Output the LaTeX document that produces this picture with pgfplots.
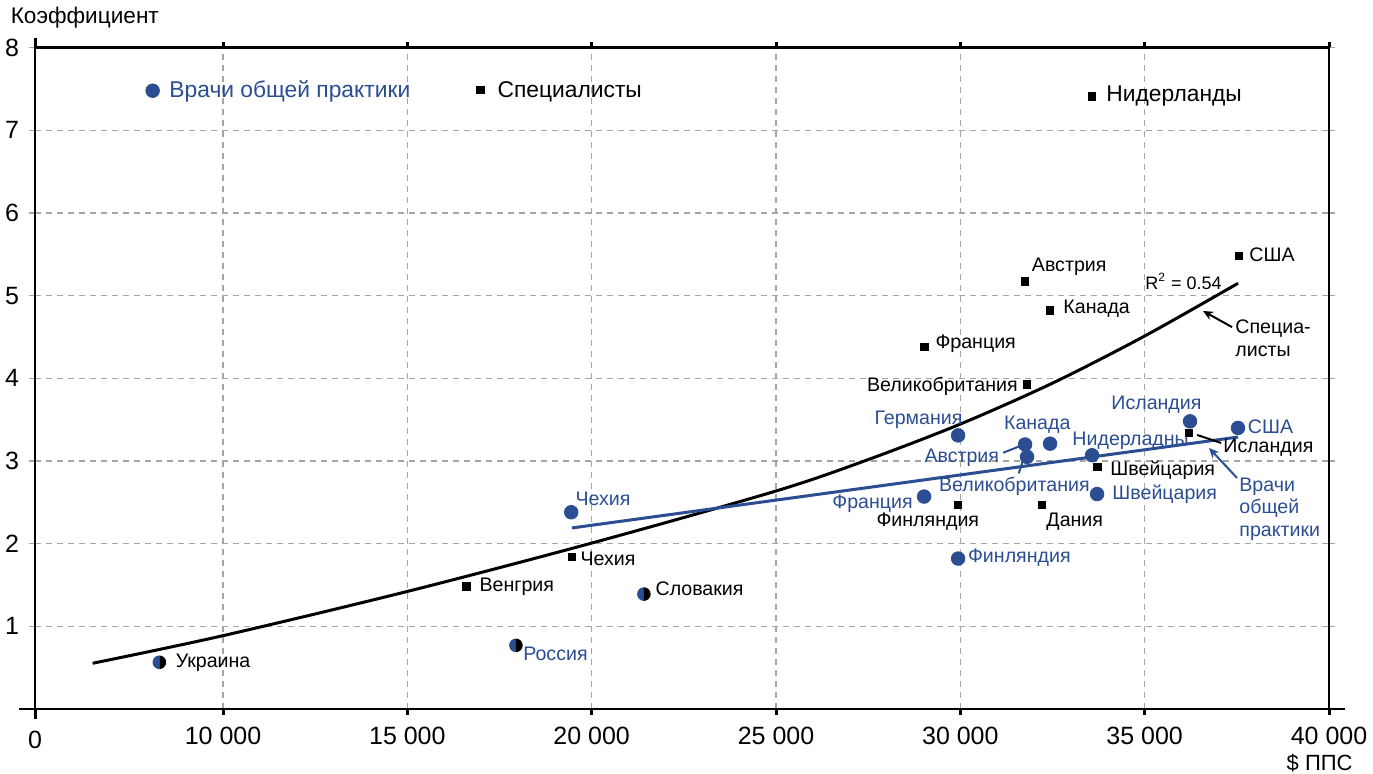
\documentclass[border=0pt]{standalone}
\usepackage{fontspec}
\setmainfont{Liberation Sans}
\usepackage{pgfplots}
\pgfplotsset{compat=1.18}
\usetikzlibrary{arrows.meta}
\definecolor{gpblue}{RGB}{43,77,145}
\definecolor{gridgray}{RGB}{165,165,165}

\pgfdeclareplotmark{halfc}{%
  \pgfpathmoveto{\pgfqpoint{0pt}{\pgfplotmarksize}}%
  \pgfpatharc{90}{270}{\pgfplotmarksize}%
  \pgfpathclose
  \pgfsetfillcolor{gpblue}\pgfusepath{fill}%
  \pgfpathmoveto{\pgfqpoint{0pt}{-\pgfplotmarksize}}%
  \pgfpatharc{-90}{90}{\pgfplotmarksize}%
  \pgfpathclose
  \pgfsetfillcolor{black}\pgfusepath{fill}%
}

\tikzset{
  lblk/.style={font=\fontsize{9.8}{11.5}\selectfont, text=black, inner sep=0pt, anchor=mid west},
  lblu/.style={font=\fontsize{9.8}{11.5}\selectfont, text=gpblue, inner sep=0pt, anchor=mid west},
  lbig/.style={font=\fontsize{11.4}{13}\selectfont, inner sep=0pt, anchor=mid west},
}

\begin{document}
\begin{tikzpicture}
\path[use as bounding box] (-17.5pt,-32.5pt) rectangle (669pt,354.5pt);
\begin{axis}[
  at={(0,0)}, anchor=south west,
  scale only axis, width=647pt, height=330.65pt,
  xmin=4900, xmax=40000, ymin=0, ymax=8,
  clip=false,
  scaled x ticks=false, scaled y ticks=false,
  axis line style={line width=1.3pt, black},
  xtick={10000,15000,20000,25000,30000,35000,40000},
  xticklabels={10 000,15 000,20 000,25 000,30 000,35 000,40 000},
  extra x ticks={4900}, extra x tick labels={0},
  extra x tick style={grid=none, major tick length=5pt},
  ytick={1,2,3,4,5,6,7,8},
  yticklabels={1,2,3,4,5,6,7,8},
  extra y ticks={0}, extra y tick labels={},
  extra y tick style={grid=none, major tick length=8pt, ytick style={draw=black, line width=1.3pt}},
  grid=major,
  major grid style={gridgray, dash pattern=on 3pt off 2.5pt, line width=0.65pt},
  tick label style={font=\fontsize{12.5}{14}\selectfont},
  xticklabel style={yshift=-2.5pt},
  yticklabel style={xshift=-1.5pt},
  tick align=outside,
  major tick length=3pt,
  xtick style={black, line width=1.5pt},
  ytick style={gridgray, line width=0.65pt},
]
% trend lines
\addplot[black, line width=1.5pt, smooth] coordinates {
  (6464,0.553) (10000,0.887) (15000,1.422) (20000,2.007) (25000,2.637)
  (27500,3.017) (30000,3.447) (32500,3.942) (35000,4.512) (37532,5.15)};
\addplot[gpblue, line width=1.5pt] coordinates {(19464,2.19) (37532,3.29)};

% specialists
\addplot[only marks, mark=square*, mark size=1.9pt, black] coordinates {
  (33565,7.41) (37559,5.48) (31756,5.17) (32434,4.82) (29017,4.38)
  (31810,3.93) (36203,3.34) (33722,2.93) (29939,2.47) (32217,2.47)
  (19464,1.84) (16598,1.48) (16977,7.49)};
% general practitioners
\addplot[only marks, mark=*, mark size=3.4pt, gpblue] coordinates {
  (36230,3.48) (37532,3.40) (29939,3.31) (31756,3.20) (31810,3.05)
  (32434,3.21) (33573,3.07) (33709,2.60) (29017,2.57) (29939,1.82)
  (19445,2.38) (8091,7.48)};
% both
\addplot[only marks, mark=halfc, mark size=3.4pt] coordinates {
  (21416,1.39) (17945,0.77) (8273,0.565)};

% legend-like texts
\node[lbig, text=gpblue] at (axis cs:8536,7.46) {Врачи общей практики};
\node[lbig, text=black] at (axis cs:17438,7.46) {Специалисты};
\node[lbig, text=black] at (axis cs:33953,7.41) {Нидерланды};

% black labels
\node[lblk] at (axis cs:37830,5.48) {США};
\node[lblk] at (axis cs:31932,5.36) {Австрия};
\node[lblk] at (axis cs:32787,4.85) {Канада};
\node[lblk] at (axis cs:29316,4.42) {Франция};
\node[lblk, anchor=mid east] at (axis cs:31566,3.91) {Великобритания};
\node[lblk] at (axis cs:37125,3.17) {Исландия};
\node[lblk] at (axis cs:34061,2.89) {Швейцария};
\node[lblk] at (axis cs:27716,2.27) {Финляндия};
\node[lblk] at (axis cs:32326,2.27) {Дания};
\node[lblk] at (axis cs:19689,1.80) {Чехия};
\node[lblk] at (axis cs:16950,1.49) {Венгрия};
\node[lblk] at (axis cs:21723,1.44) {Словакия};
\node[lblk] at (axis cs:8707,0.57) {Украина};

% blue labels
\node[lblu] at (axis cs:34088,3.69) {Исландия};
\node[lblu] at (axis cs:37790,3.40) {США};
\node[lblu] at (axis cs:27662,3.51) {Германия};
\node[lblu] at (axis cs:31176,3.44) {Канада};
\node[lblu] at (axis cs:29017,3.05) {Австрия};
\node[lblu] at (axis cs:33031,3.25) {Нидерладны};
\node[lblu] at (axis cs:29413,2.70) {Великобритания};
\node[lblu] at (axis cs:34115,2.60) {Швейцария};
\node[lblu, anchor=mid east] at (axis cs:28719,2.49) {Франция};
\node[lblu] at (axis cs:30199,1.835) {Финляндия};
\node[lblu] at (axis cs:19553,2.53) {Чехия};
\node[lblu] at (axis cs:18135,0.65) {Россия};

% leader lines
\draw[black, line width=1pt] (axis cs:36424,3.315) -- (axis cs:37075,3.218);
\draw[gpblue, line width=1pt] (axis cs:31159,3.10) -- (axis cs:31620,3.18);
\draw[gpblue, line width=1pt] (axis cs:31583,2.85) -- (axis cs:31702,3.01);

% annotations
\node[font=\fontsize{9}{11}\selectfont, inner sep=0pt, anchor=mid west] at (axis cs:35010,5.14) {R\textsuperscript{2} = 0.54};
\node[font=\fontsize{9.8}{11.5}\selectfont, inner sep=0pt, anchor=west, align=left] at (axis cs:37451,4.48) {Специа-\\листы};
\draw[black, line width=1pt, -{Stealth[length=5pt,width=4.5pt]}] (axis cs:37370,4.62) -- (axis cs:36583,4.815);
\node[font=\fontsize{9.8}{11.25}\selectfont, text=gpblue, inner sep=0pt, anchor=west, align=left] at (axis cs:37559,2.42) {Врачи\\общей\\практики};
\draw[gpblue, line width=1pt, -{Stealth[length=5pt,width=4.5pt]}] (axis cs:37505,2.795) -- (axis cs:36746,3.157);

% axis titles
\node[font=\fontsize{11.3}{13}\selectfont, inner sep=0pt, anchor=mid west] at (axis cs:4232,8.36) {Коэффициент};
\node[font=\fontsize{11}{13}\selectfont, inner sep=0pt, anchor=mid east] at (axis cs:40650,-0.677) {\$ ППС};
\end{axis}
\end{tikzpicture}
\end{document}
